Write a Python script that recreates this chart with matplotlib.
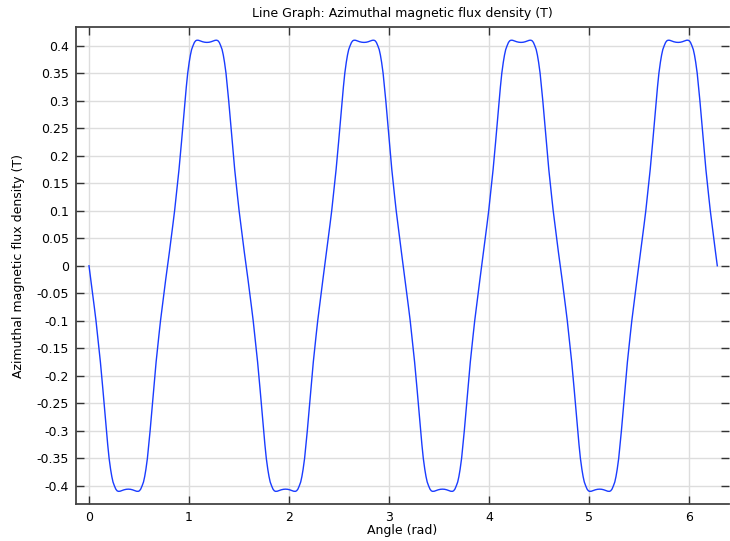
# plot.py - azimuthal magnetic flux density vs angle

import matplotlib
matplotlib.use("Agg")
import matplotlib.pyplot as plt

# One lobe of the curve:
# offset from the lobe's start (rad) and |B_phi| (T)
lobe_offset = [
    0.000, 0.018, 0.036, 0.053, 0.070, 0.085, 0.100, 0.114, 0.127, 0.139, 0.151, 0.162, 0.174,
    0.187, 0.201, 0.216, 0.228, 0.240, 0.254, 0.268, 0.281, 0.293, 0.310, 0.330, 0.350, 0.372,
    0.393, 0.415, 0.435, 0.455, 0.475, 0.492, 0.504, 0.517, 0.531, 0.545, 0.557, 0.569, 0.584,
    0.598, 0.611, 0.623, 0.634, 0.646, 0.658, 0.671, 0.685, 0.700, 0.715, 0.732, 0.749, 0.767,
]
lobe_value = [
    0.000, 0.025, 0.050, 0.075, 0.100, 0.125, 0.150, 0.175, 0.200, 0.225, 0.250, 0.275, 0.300,
    0.325, 0.350, 0.370, 0.383, 0.393, 0.400, 0.406, 0.409, 0.410, 0.4098, 0.4085, 0.4072, 0.4063,
    0.406, 0.4063, 0.4072, 0.4085, 0.4098, 0.410, 0.409, 0.406, 0.400, 0.393, 0.383, 0.370, 0.350,
    0.325, 0.300, 0.275, 0.250, 0.225, 0.200, 0.175, 0.150, 0.125, 0.100, 0.075, 0.050, 0.025,
]

# Where each lobe starts (rad) and whether it is below or above zero
lobe_start = [0.000, 0.786, 1.572, 2.357, 3.142, 3.927, 4.713, 5.498]
lobe_sign = [-1, 1, -1, 1, -1, 1, -1, 1]
end_angle = 6.283

x_ticks = [0, 1, 2, 3, 4, 5, 6]
y_ticks = [-0.4, -0.35, -0.3, -0.25, -0.2, -0.15, -0.1, -0.05, 0,
           0.05, 0.1, 0.15, 0.2, 0.25, 0.3, 0.35, 0.4]
y_tick_labels = ["-0.4", "-0.35", "-0.3", "-0.25", "-0.2", "-0.15", "-0.1", "-0.05", "0",
                 "0.05", "0.1", "0.15", "0.2", "0.25", "0.3", "0.35", "0.4"]

# Lay the lobes end to end
angle = []
b_phi = []
for start, sign in zip(lobe_start, lobe_sign):
    for off, val in zip(lobe_offset, lobe_value):
        angle.append(start + off)
        b_phi.append(sign * val)
angle.append(end_angle)
b_phi.append(0.0)

fig = plt.figure(figsize=(7.3, 5.41), dpi=100)
ax = fig.add_axes([76 / 730, 1 - 504 / 541, (729 - 76) / 730, (504 - 27) / 541])

ax.plot(angle, b_phi, color="#1a3cff", linewidth=1.0)

ax.set_xlim(-0.13, 6.40)
ax.set_ylim(-0.433, 0.434)
ax.set_xticks(x_ticks)
ax.set_yticks(y_ticks)
ax.set_yticklabels(y_tick_labels)

ax.grid(True, color="#dddddd", linewidth=1.0)
ax.set_axisbelow(True)
ax.tick_params(direction="in", length=6, width=1.0, color="#333333",
               top=True, right=True, labelsize=9, pad=5)
for side in ["left", "bottom", "top"]:
    ax.spines[side].set_color("#444444")
    ax.spines[side].set_linewidth(1.3)
ax.spines["right"].set_visible(False)

ax.set_title("Line Graph: Azimuthal magnetic flux density (T)", fontsize=9, pad=7)
ax.set_xlabel("Angle (rad)", fontsize=9, labelpad=0)
ax.set_ylabel("Azimuthal magnetic flux density (T)", fontsize=9, labelpad=8)

fig.savefig("out.png", dpi=100)
